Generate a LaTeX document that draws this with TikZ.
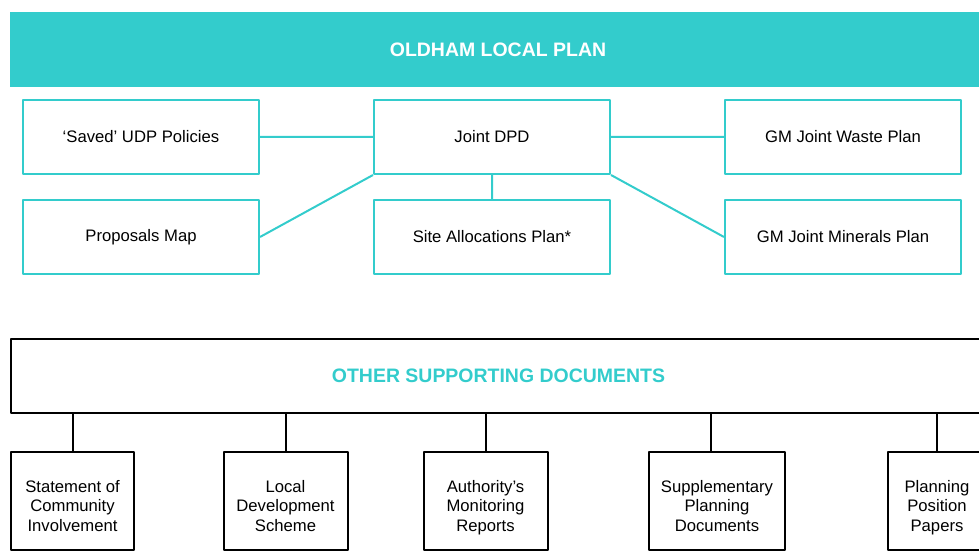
\documentclass[tikz,border=0pt]{standalone}
\usepackage{fontspec}
\setmainfont{Liberation Sans}
\definecolor{planteal}{HTML}{33CCCC}

\begin{document}
\begin{tikzpicture}[x=0.75pt,y=-0.75pt,line join=round,
    planbox/.style={draw=planteal,line width=1.5pt,minimum width=236*0.75pt,minimum height=74*0.75pt,font=\fontsize{12.5}{15}\selectfont},
    docbox/.style={draw=black,line width=1.5pt,align=center,minimum height=98*0.75pt,text height=48pt,text depth=3pt,font=\fontsize{12.5}{14.6}\selectfont},
    link/.style={planteal,line width=1.5pt}]
    \useasboundingbox (0,0) rectangle (979,552);
    \clip (0,0) rectangle (979,552);
    % banner
    \node[fill=planteal,inner sep=0,minimum width=976*0.75pt,minimum height=75*0.75pt,text=white,font=\bfseries\fontsize{14.6}{17}\selectfont] (lp) at (498,50) {OLDHAM LOCAL PLAN};
    % plan documents
    \node[planbox] (udp) at (141,137) {‘Saved’ UDP Policies};
    \node[planbox] (jdpd) at (492,137) {Joint DPD};
    \node[planbox] (waste) at (843,137) {GM Joint Waste Plan};
    \node[planbox] (map) at (141,237) {Proposals Map};
    \node[planbox] (site) at (492,237) {Site Allocations Plan*};
    \node[planbox] (minerals) at (843,237) {GM Joint Minerals Plan};
    \draw[link] (udp.east)--(jdpd.west) (jdpd.east)--(waste.west) (map.east)--(jdpd.south west) (jdpd.south)--(site.north) (jdpd.south east)--(minerals.west);
    % supporting documents
    \node[draw=black,line width=1.5pt,minimum width=975*0.75pt,minimum height=74*0.75pt,text=planteal,font=\bfseries\fontsize{14.6}{17}\selectfont] (osd) at (498.5,376) {OTHER SUPPORTING DOCUMENTS};
    \node[docbox,minimum width=123*0.75pt] (sci) at (72.5,501) {Statement of\\Community\\Involvement};
    \node[docbox,minimum width=124*0.75pt] (lds) at (285.5,501) {Local\\Development\\Scheme};
    \node[docbox,minimum width=124*0.75pt] (amr) at (485.5,501) {Authority’s\\Monitoring\\Reports};
    \node[docbox,minimum width=136*0.75pt] (spd) at (717,501) {Supplementary\\Planning\\Documents};
    \node[docbox,minimum width=98*0.75pt] (ppp) at (937,501) {Planning\\Position\\Papers};
    \foreach \d in {sci,lds,amr,ppp}
        \draw[line width=1.5pt] (\d.north)--(\d.north |- osd.south);
    \draw[line width=1.5pt] ([xshift=-6*0.75pt]spd.north)--([xshift=-6*0.75pt]spd.north |- osd.south);
\end{tikzpicture}
\end{document}
